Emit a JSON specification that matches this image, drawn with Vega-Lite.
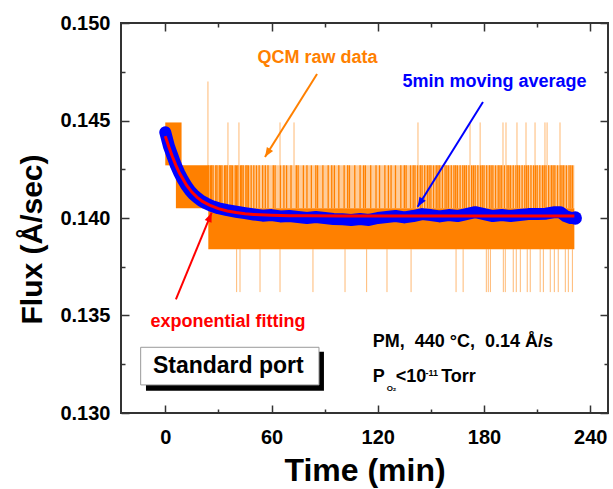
{
  "$schema": "https://vega.github.io/schema/vega-lite/v6.json",
  "autosize": {"type": "none"},
  "width": 487,
  "height": 390,
  "padding": {"left": 121, "top": 23, "right": 5, "bottom": 76},
  "background": "white",
  "config": {
    "view": {"stroke": "#333333", "strokeWidth": 2},
    "font": "Liberation Sans",
    "text": {"font": "Liberation Sans", "fontWeight": "bold"}
  },
  "encoding": {
    "x": {"field": "t", "type": "quantitative", "scale": {"domain": [-25, 250], "nice": false, "zero": false}, "axis": null},
    "y": {"field": "v", "type": "quantitative", "scale": {"domain": [0.13, 0.15], "nice": false, "zero": false}, "axis": null}
  },
  "resolve": {"axis": {"x": "independent", "y": "independent"}},
  "layer": [
    {
      "data": {"values": [
        {"t": 0, "t2": 9.2, "v": 0.1427, "v2": 0.1449},
        {"t": 6, "t2": 24.3, "v": 0.1405, "v2": 0.1427},
        {"t": 24.3, "t2": 231, "v": 0.1384, "v2": 0.1405}
      ]},
      "mark": {"type": "rect", "color": "#FF8000"},
      "encoding": {
        "x": {"field": "t", "type": "quantitative", "scale": {"domain": [-25, 250], "nice": false, "zero": false},
          "axis": {"orient": "bottom", "values": [0, 30, 60, 90, 120, 150, 180, 210, 240], "format": "d",
            "labelExpr": "datum.value % 60 === 0 ? datum.label : ''",
            "title": "Time (min)", "titleFont": "Liberation Sans", "titleFontSize": 32, "titleFontWeight": "bold", "titleColor": "black", "titlePadding": 4,
            "labelFont": "Liberation Sans", "labelFontSize": 20, "labelFontWeight": "bold", "labelColor": "black", "labelPadding": 22,
            "labelFlush": false, "labelOverlap": false,
            "tickSize": {"condition": {"test": "datum.value % 60 === 0", "value": -8}, "value": -4},
            "tickColor": "#333333", "tickWidth": 1.5, "domain": false, "grid": false}},
        "x2": {"field": "t2"},
        "y": {"field": "v", "type": "quantitative", "scale": {"domain": [0.13, 0.15], "nice": false, "zero": false},
          "axis": {"orient": "left", "values": [0.13, 0.1325, 0.135, 0.1375, 0.14, 0.1425, 0.145, 0.1475, 0.15],
            "labelExpr": "abs(datum.value*200 - round(datum.value*200)) < 0.01 ? format(datum.value, '.3f') : ''",
            "title": "Flux (Å/sec)", "titleFont": "Liberation Sans", "titleFontSize": 30, "titleFontWeight": "bold", "titleColor": "black",
            "titleX": -74, "titleY": 216,
            "labelFont": "Liberation Sans", "labelFontSize": 20, "labelFontWeight": "bold", "labelColor": "black", "labelPadding": 19,
            "labelFlush": false, "labelOverlap": false,
            "tickSize": {"condition": {"test": "abs(datum.value*200 - round(datum.value*200)) < 0.01", "value": -8}, "value": -4},
            "tickColor": "#333333", "tickWidth": 1.5, "domain": false, "grid": false}},
        "y2": {"field": "v2"}
      }
    },
    {
      "data": {"values": [{"t": 24.3, "t2": 231, "v": 0.1405, "v2": 0.1427}]},
      "mark": {"type": "rect", "color": "#FF8000", "opacity": 0.4},
      "encoding": {"x2": {"field": "t2"}, "y2": {"field": "v2"}}
    },
    {
      "data": {"values": [
        {"t": 24.5, "v": 0.1405, "v2": 0.1427}, {"t": 25.5, "v": 0.1405, "v2": 0.1427}, {"t": 26.2, "v": 0.1405, "v2": 0.1427},
        {"t": 27, "v": 0.1405, "v2": 0.1427}, {"t": 28.5, "v": 0.1405, "v2": 0.1427}, {"t": 29.2, "v": 0.1405, "v2": 0.1427},
        {"t": 30.5, "v": 0.1405, "v2": 0.1427}, {"t": 31.2, "v": 0.1405, "v2": 0.1427}, {"t": 32, "v": 0.1405, "v2": 0.1427},
        {"t": 33.5, "v": 0.1405, "v2": 0.1427}, {"t": 34.2, "v": 0.1405, "v2": 0.1427}, {"t": 35, "v": 0.1405, "v2": 0.1427},
        {"t": 36.5, "v": 0.1405, "v2": 0.1427}, {"t": 37.2, "v": 0.1405, "v2": 0.1427}, {"t": 38, "v": 0.1405, "v2": 0.1427},
        {"t": 39.5, "v": 0.1405, "v2": 0.1427}, {"t": 40.2, "v": 0.1405, "v2": 0.1427}, {"t": 41, "v": 0.1405, "v2": 0.1427},
        {"t": 42.5, "v": 0.1405, "v2": 0.1427}, {"t": 43.2, "v": 0.1405, "v2": 0.1427}, {"t": 44, "v": 0.1405, "v2": 0.1427},
        {"t": 45.5, "v": 0.1405, "v2": 0.1427}, {"t": 46.2, "v": 0.1405, "v2": 0.1427}, {"t": 47, "v": 0.1405, "v2": 0.1427},
        {"t": 48.5, "v": 0.1405, "v2": 0.1427}, {"t": 50, "v": 0.1405, "v2": 0.1427}, {"t": 51.5, "v": 0.1405, "v2": 0.1427},
        {"t": 53, "v": 0.1405, "v2": 0.1427}, {"t": 55, "v": 0.1405, "v2": 0.1427}, {"t": 56.5, "v": 0.1405, "v2": 0.1427},
        {"t": 58, "v": 0.1405, "v2": 0.1427}, {"t": 61, "v": 0.1405, "v2": 0.1427}, {"t": 62, "v": 0.1405, "v2": 0.1427},
        {"t": 65, "v": 0.1405, "v2": 0.1427}, {"t": 67, "v": 0.1405, "v2": 0.1427}, {"t": 68.5, "v": 0.1405, "v2": 0.1427},
        {"t": 71, "v": 0.1405, "v2": 0.1427}, {"t": 74, "v": 0.1405, "v2": 0.1427}, {"t": 75, "v": 0.1405, "v2": 0.1427},
        {"t": 78, "v": 0.1405, "v2": 0.1427}, {"t": 80, "v": 0.1405, "v2": 0.1427}, {"t": 82.5, "v": 0.1405, "v2": 0.1427},
        {"t": 85, "v": 0.1405, "v2": 0.1427}, {"t": 86, "v": 0.1405, "v2": 0.1427}, {"t": 89, "v": 0.1405, "v2": 0.1427},
        {"t": 92, "v": 0.1405, "v2": 0.1427}, {"t": 94, "v": 0.1405, "v2": 0.1427}, {"t": 95.5, "v": 0.1405, "v2": 0.1427},
        {"t": 98, "v": 0.1405, "v2": 0.1427}, {"t": 101, "v": 0.1405, "v2": 0.1427}, {"t": 103, "v": 0.1405, "v2": 0.1427},
        {"t": 104, "v": 0.1405, "v2": 0.1427}, {"t": 107, "v": 0.1405, "v2": 0.1427}, {"t": 110, "v": 0.1405, "v2": 0.1427},
        {"t": 112, "v": 0.1405, "v2": 0.1427}, {"t": 113, "v": 0.1405, "v2": 0.1427}, {"t": 116, "v": 0.1405, "v2": 0.1427},
        {"t": 119, "v": 0.1405, "v2": 0.1427}, {"t": 121, "v": 0.1405, "v2": 0.1427}, {"t": 124, "v": 0.1405, "v2": 0.1427},
        {"t": 126, "v": 0.1405, "v2": 0.1427}, {"t": 127.5, "v": 0.1405, "v2": 0.1427}, {"t": 130, "v": 0.1405, "v2": 0.1427},
        {"t": 133, "v": 0.1405, "v2": 0.1427}, {"t": 135, "v": 0.1405, "v2": 0.1427}, {"t": 136, "v": 0.1405, "v2": 0.1427},
        {"t": 138.5, "v": 0.1405, "v2": 0.1427}, {"t": 140, "v": 0.1405, "v2": 0.1427}, {"t": 141, "v": 0.1405, "v2": 0.1427},
        {"t": 142.5, "v": 0.1405, "v2": 0.1427}, {"t": 144, "v": 0.1405, "v2": 0.1427}, {"t": 145, "v": 0.1405, "v2": 0.1427},
        {"t": 146.5, "v": 0.1405, "v2": 0.1427}, {"t": 148, "v": 0.1405, "v2": 0.1427}, {"t": 149, "v": 0.1405, "v2": 0.1427},
        {"t": 150, "v": 0.1405, "v2": 0.1427}, {"t": 151.5, "v": 0.1405, "v2": 0.1427}, {"t": 153, "v": 0.1405, "v2": 0.1427},
        {"t": 154, "v": 0.1405, "v2": 0.1427}, {"t": 155, "v": 0.1405, "v2": 0.1427}, {"t": 156.5, "v": 0.1405, "v2": 0.1427},
        {"t": 158, "v": 0.1405, "v2": 0.1427}, {"t": 159, "v": 0.1405, "v2": 0.1427}, {"t": 160, "v": 0.1405, "v2": 0.1427},
        {"t": 161.5, "v": 0.1405, "v2": 0.1427}, {"t": 163, "v": 0.1405, "v2": 0.1427}, {"t": 164, "v": 0.1405, "v2": 0.1427},
        {"t": 165, "v": 0.1405, "v2": 0.1427}, {"t": 166.5, "v": 0.1405, "v2": 0.1427}, {"t": 168, "v": 0.1405, "v2": 0.1427},
        {"t": 169, "v": 0.1405, "v2": 0.1427}, {"t": 170, "v": 0.1405, "v2": 0.1427}, {"t": 171.5, "v": 0.1405, "v2": 0.1427},
        {"t": 173, "v": 0.1405, "v2": 0.1427}, {"t": 174, "v": 0.1405, "v2": 0.1427}, {"t": 175, "v": 0.1405, "v2": 0.1427},
        {"t": 176.5, "v": 0.1405, "v2": 0.1427}, {"t": 178, "v": 0.1405, "v2": 0.1427}, {"t": 179, "v": 0.1405, "v2": 0.1427},
        {"t": 180, "v": 0.1405, "v2": 0.1427}, {"t": 181.5, "v": 0.1405, "v2": 0.1427}, {"t": 183, "v": 0.1405, "v2": 0.1427},
        {"t": 184, "v": 0.1405, "v2": 0.1427}, {"t": 185, "v": 0.1405, "v2": 0.1427}, {"t": 186.5, "v": 0.1405, "v2": 0.1427},
        {"t": 188, "v": 0.1405, "v2": 0.1427}, {"t": 189, "v": 0.1405, "v2": 0.1427}, {"t": 190, "v": 0.1405, "v2": 0.1427},
        {"t": 191.5, "v": 0.1405, "v2": 0.1427}, {"t": 193, "v": 0.1405, "v2": 0.1427}, {"t": 194, "v": 0.1405, "v2": 0.1427},
        {"t": 195, "v": 0.1405, "v2": 0.1427}, {"t": 196.5, "v": 0.1405, "v2": 0.1427}, {"t": 198, "v": 0.1405, "v2": 0.1427},
        {"t": 199, "v": 0.1405, "v2": 0.1427}, {"t": 200, "v": 0.1405, "v2": 0.1427}, {"t": 201.5, "v": 0.1405, "v2": 0.1427},
        {"t": 203, "v": 0.1405, "v2": 0.1427}, {"t": 204, "v": 0.1405, "v2": 0.1427}, {"t": 205, "v": 0.1405, "v2": 0.1427},
        {"t": 206.5, "v": 0.1405, "v2": 0.1427}, {"t": 208, "v": 0.1405, "v2": 0.1427}, {"t": 209, "v": 0.1405, "v2": 0.1427},
        {"t": 210, "v": 0.1405, "v2": 0.1427}, {"t": 211.5, "v": 0.1405, "v2": 0.1427}, {"t": 213, "v": 0.1405, "v2": 0.1427},
        {"t": 214, "v": 0.1405, "v2": 0.1427}, {"t": 215, "v": 0.1405, "v2": 0.1427}, {"t": 216.5, "v": 0.1405, "v2": 0.1427},
        {"t": 218, "v": 0.1405, "v2": 0.1427}, {"t": 219, "v": 0.1405, "v2": 0.1427}, {"t": 220, "v": 0.1405, "v2": 0.1427},
        {"t": 221.5, "v": 0.1405, "v2": 0.1427}, {"t": 223, "v": 0.1405, "v2": 0.1427}, {"t": 224, "v": 0.1405, "v2": 0.1427},
        {"t": 225, "v": 0.1405, "v2": 0.1427}, {"t": 226.5, "v": 0.1405, "v2": 0.1427}, {"t": 228, "v": 0.1405, "v2": 0.1427},
        {"t": 229, "v": 0.1405, "v2": 0.1427}, {"t": 230, "v": 0.1405, "v2": 0.1427}
      ]},
      "mark": {"type": "rule", "color": "#FF8000", "strokeWidth": 1.3},
      "encoding": {"y2": {"field": "v2"}}
    },
    {
      "data": {"values": [
        {"t": 24.1, "v": 0.1405, "v2": 0.147},
        {"t": 35.4, "v": 0.1427, "v2": 0.1449}, {"t": 41.6, "v": 0.1427, "v2": 0.1449}, {"t": 64.8, "v": 0.1427, "v2": 0.1449},
        {"t": 72.7, "v": 0.1427, "v2": 0.1449}, {"t": 142.7, "v": 0.1427, "v2": 0.1449}, {"t": 172.1, "v": 0.1427, "v2": 0.1449},
        {"t": 177.8, "v": 0.1427, "v2": 0.1449}, {"t": 190.7, "v": 0.1427, "v2": 0.1449}, {"t": 192.4, "v": 0.1427, "v2": 0.1449},
        {"t": 198.6, "v": 0.1427, "v2": 0.1449}, {"t": 203.7, "v": 0.1427, "v2": 0.1449}, {"t": 208.8, "v": 0.1427, "v2": 0.1449},
        {"t": 214.4, "v": 0.1427, "v2": 0.1449}, {"t": 215.6, "v": 0.1427, "v2": 0.1449}, {"t": 222.9, "v": 0.1427, "v2": 0.1449},
        {"t": 40.3, "v": 0.1362, "v2": 0.1384}, {"t": 42.2, "v": 0.1362, "v2": 0.1384}, {"t": 53.5, "v": 0.1362, "v2": 0.1384},
        {"t": 64.8, "v": 0.1362, "v2": 0.1384}, {"t": 83.4, "v": 0.1362, "v2": 0.1384}, {"t": 101.5, "v": 0.1362, "v2": 0.1384},
        {"t": 113.7, "v": 0.1362, "v2": 0.1384}, {"t": 125.2, "v": 0.1362, "v2": 0.1384}, {"t": 138.8, "v": 0.1362, "v2": 0.1384},
        {"t": 164.2, "v": 0.1362, "v2": 0.1384}, {"t": 168.2, "v": 0.1362, "v2": 0.1384}, {"t": 181.3, "v": 0.1362, "v2": 0.1384},
        {"t": 182.4, "v": 0.1362, "v2": 0.1384}, {"t": 183.6, "v": 0.1362, "v2": 0.1384}, {"t": 190.9, "v": 0.1362, "v2": 0.1384},
        {"t": 192, "v": 0.1362, "v2": 0.1384}, {"t": 196.5, "v": 0.1362, "v2": 0.1384}, {"t": 198.2, "v": 0.1362, "v2": 0.1384},
        {"t": 200.5, "v": 0.1362, "v2": 0.1384}, {"t": 204.4, "v": 0.1362, "v2": 0.1384}, {"t": 206.1, "v": 0.1362, "v2": 0.1384},
        {"t": 211.7, "v": 0.1362, "v2": 0.1384}, {"t": 213.5, "v": 0.1362, "v2": 0.1384}, {"t": 217.4, "v": 0.1362, "v2": 0.1384},
        {"t": 219.7, "v": 0.1362, "v2": 0.1384}, {"t": 221.9, "v": 0.1362, "v2": 0.1384}, {"t": 225.9, "v": 0.1362, "v2": 0.1384},
        {"t": 227.6, "v": 0.1362, "v2": 0.1384}, {"t": 229.9, "v": 0.1362, "v2": 0.1384}
      ]},
      "mark": {"type": "rule", "color": "#FF8000", "strokeWidth": 1, "opacity": 0.55},
      "encoding": {"y2": {"field": "v2"}}
    },
    {
      "data": {"values": [
        {"t": 0, "v": 0.1444}, {"t": 1, "v": 0.14405}, {"t": 2, "v": 0.1437}, {"t": 3, "v": 0.14345}, {"t": 4, "v": 0.1432},
        {"t": 5, "v": 0.14295}, {"t": 6, "v": 0.1427}, {"t": 8, "v": 0.1423}, {"t": 10, "v": 0.14195}, {"t": 12, "v": 0.14165},
        {"t": 14, "v": 0.1414}, {"t": 16, "v": 0.1412}, {"t": 18, "v": 0.14105}, {"t": 20, "v": 0.1409}, {"t": 23, "v": 0.14075},
        {"t": 26, "v": 0.14062}, {"t": 30, "v": 0.1405}, {"t": 35, "v": 0.1404}, {"t": 40, "v": 0.14032}, {"t": 45, "v": 0.14025},
        {"t": 50, "v": 0.14018}, {"t": 55, "v": 0.14012}, {"t": 60, "v": 0.14015}, {"t": 65, "v": 0.14008}, {"t": 70, "v": 0.1401},
        {"t": 75, "v": 0.14005}, {"t": 80, "v": 0.14}, {"t": 85, "v": 0.14005}, {"t": 90, "v": 0.14}, {"t": 95, "v": 0.13995},
        {"t": 100, "v": 0.13993}, {"t": 105, "v": 0.1399}, {"t": 110, "v": 0.13995}, {"t": 115, "v": 0.1399}, {"t": 120, "v": 0.14},
        {"t": 125, "v": 0.14005}, {"t": 130, "v": 0.1401}, {"t": 135, "v": 0.14003}, {"t": 140, "v": 0.1401}, {"t": 145, "v": 0.1402},
        {"t": 150, "v": 0.14015}, {"t": 155, "v": 0.14008}, {"t": 160, "v": 0.14015}, {"t": 165, "v": 0.1401}, {"t": 170, "v": 0.1402},
        {"t": 175, "v": 0.1403}, {"t": 180, "v": 0.1402}, {"t": 185, "v": 0.1401}, {"t": 190, "v": 0.14015}, {"t": 195, "v": 0.1401},
        {"t": 200, "v": 0.14015}, {"t": 205, "v": 0.1402}, {"t": 210, "v": 0.1402}, {"t": 215, "v": 0.14022}, {"t": 220, "v": 0.1403},
        {"t": 223, "v": 0.1403}, {"t": 226, "v": 0.1401}, {"t": 229, "v": 0.14}, {"t": 231, "v": 0.14}
      ]},
      "mark": {"type": "line", "color": "#0000FF", "strokeWidth": 12, "strokeCap": "round", "strokeJoin": "round"}
    },
    {
      "data": {"values": [{"t": 231.5, "v": 0.14}]},
      "mark": {"type": "point", "filled": true, "color": "#0000FF", "opacity": 1, "size": 180}
    },
    {
      "data": {"values": [
        {"t": 0, "v": 0.1442}, {"t": 2, "v": 0.14365}, {"t": 4, "v": 0.14315}, {"t": 6, "v": 0.1427}, {"t": 8, "v": 0.1423},
        {"t": 10, "v": 0.142}, {"t": 12, "v": 0.14168}, {"t": 15, "v": 0.14133}, {"t": 18, "v": 0.14106}, {"t": 21, "v": 0.14085},
        {"t": 25, "v": 0.14066}, {"t": 30, "v": 0.14048}, {"t": 35, "v": 0.14036}, {"t": 40, "v": 0.14028}, {"t": 45, "v": 0.14022},
        {"t": 50, "v": 0.14018}, {"t": 60, "v": 0.14014}, {"t": 70, "v": 0.14012}, {"t": 80, "v": 0.14011}, {"t": 100, "v": 0.1401},
        {"t": 231, "v": 0.1401}
      ]},
      "mark": {"type": "line", "color": "#FF0000", "strokeWidth": 3},
      "encoding": {
        "x": {"field": "t", "type": "quantitative", "scale": {"domain": [-25, 250], "nice": false, "zero": false},
          "axis": {"orient": "top", "values": [0, 30, 60, 90, 120, 150, 180, 210, 240], "labels": false, "title": null,
            "tickSize": {"condition": {"test": "datum.value % 60 === 0", "value": -8}, "value": -4},
            "tickColor": "#333333", "tickWidth": 1.5, "domain": false, "grid": false}},
        "y": {"field": "v", "type": "quantitative", "scale": {"domain": [0.13, 0.15], "nice": false, "zero": false},
          "axis": {"orient": "right", "values": [0.13, 0.1325, 0.135, 0.1375, 0.14, 0.1425, 0.145, 0.1475, 0.15], "labels": false, "title": null,
            "tickSize": {"condition": {"test": "abs(datum.value*200 - round(datum.value*200)) < 0.01", "value": -8}, "value": -4},
            "tickColor": "#333333", "tickWidth": 1.5, "domain": false, "grid": false}}
      }
    },
    {
      "data": {"values": [{"t": 85.7, "v": 0.14738, "t2": 56.3, "v2": 0.14313}]},
      "mark": {"type": "rule", "color": "#FF8000", "strokeWidth": 2},
      "encoding": {"x2": {"field": "t2"}, "y2": {"field": "v2"}}
    },
    {
      "data": {"values": [{"t": 56.3, "v": 0.14313}]},
      "mark": {"type": "point", "shape": "M0,0 L-0.7,1.8 L0.7,1.8 Z", "angle": 212, "size": 110, "filled": true, "opacity": 1, "color": "#FF8000"}
    },
    {
      "data": {"values": [{"t": 179.4, "v": 0.14595, "t2": 142.5, "v2": 0.14058}]},
      "mark": {"type": "rule", "color": "#0000FF", "strokeWidth": 2},
      "encoding": {"x2": {"field": "t2"}, "y2": {"field": "v2"}}
    },
    {
      "data": {"values": [{"t": 142.5, "v": 0.14058}]},
      "mark": {"type": "point", "shape": "M0,0 L-0.7,1.8 L0.7,1.8 Z", "angle": 212, "size": 110, "filled": true, "opacity": 1, "color": "#0000FF"}
    },
    {
      "data": {"values": [{"t": 6.0, "v": 0.13583, "t2": 26.2, "v2": 0.14027}]},
      "mark": {"type": "rule", "color": "#FF0000", "strokeWidth": 2},
      "encoding": {"x2": {"field": "t2"}, "y2": {"field": "v2"}}
    },
    {
      "data": {"values": [{"t": 26.2, "v": 0.14027}]},
      "mark": {"type": "point", "shape": "M0,0 L-0.7,1.8 L0.7,1.8 Z", "angle": 22, "size": 110, "filled": true, "opacity": 1, "color": "#FF0000"}
    },
    {
      "data": {"values": [{"t": -10.9, "t2": 89.6, "v": 0.13314, "v2": 0.13114}]},
      "mark": {"type": "rect", "color": "black"},
      "encoding": {"x2": {"field": "t2"}, "y2": {"field": "v2"}}
    },
    {
      "data": {"values": [{"t": -13.9, "t2": 86.8, "v": 0.13337, "v2": 0.13144}]},
      "mark": {"type": "rect", "fill": "white", "stroke": "#999999", "strokeWidth": 1},
      "encoding": {"x2": {"field": "t2"}, "y2": {"field": "v2"}}
    },
    {
      "data": {"values": [{"t": 35.6, "v": 0.13205, "label": "Standard port"}]},
      "mark": {"type": "text", "fontSize": 23, "color": "black", "align": "center", "baseline": "alphabetic"},
      "encoding": {"text": {"field": "label"}}
    },
    {
      "data": {"values": [{"t": 86.0, "v": 0.14795, "label": "QCM raw data"}]},
      "mark": {"type": "text", "fontSize": 18, "color": "#FF8000", "align": "center", "baseline": "alphabetic"},
      "encoding": {"text": {"field": "label"}}
    },
    {
      "data": {"values": [{"t": 185.9, "v": 0.14672, "label": "5min moving average"}]},
      "mark": {"type": "text", "fontSize": 18, "color": "#0000FF", "align": "center", "baseline": "alphabetic"},
      "encoding": {"text": {"field": "label"}}
    },
    {
      "data": {"values": [{"t": 35.4, "v": 0.13441, "label": "exponential fitting"}]},
      "mark": {"type": "text", "fontSize": 18, "color": "#FF0000", "align": "center", "baseline": "alphabetic"},
      "encoding": {"text": {"field": "label"}}
    },
    {
      "data": {"values": [
        {"t": 117.1, "v": 0.13338, "label": "PM,\u00a0 440 °C,\u00a0 0.14 Å/s"},
        {"t": 117.1, "v": 0.13157, "label": "P"},
        {"t": 130.2, "v": 0.13157, "label": "<10"},
        {"t": 155.8, "v": 0.13157, "label": "Torr"}
      ]},
      "mark": {"type": "text", "fontSize": 18, "color": "black", "align": "left", "baseline": "alphabetic"},
      "encoding": {"text": {"field": "label"}}
    },
    {
      "data": {"values": [{"t": 125.0, "v": 0.13113, "label": "O₂"}]},
      "mark": {"type": "text", "fontSize": 8, "color": "black", "align": "left", "baseline": "alphabetic"},
      "encoding": {"text": {"field": "label"}}
    },
    {
      "data": {"values": [{"t": 147.0, "v": 0.13191, "label": "-11"}]},
      "mark": {"type": "text", "fontSize": 9, "color": "black", "align": "left", "baseline": "alphabetic"},
      "encoding": {"text": {"field": "label"}}
    }
  ]
}
